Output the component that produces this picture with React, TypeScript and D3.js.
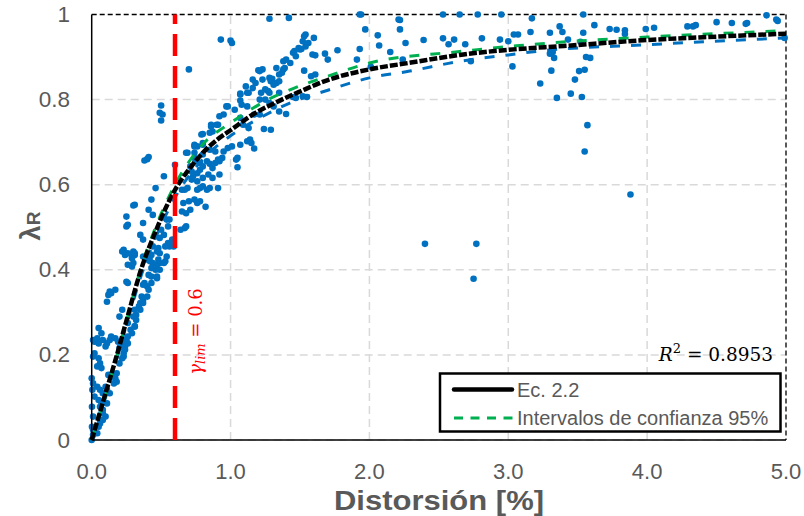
import React from "react";
import * as d3 from "d3";

// Measured pairs: [distortion %, λR]
const measured: [number, number][] = [
  [2.40,0.461],[2.77,0.461],[2.75,0.379],[3.88,0.577],[3.55,0.678],[3.57,0.740],
  [3.56,0.900],[3.59,0.898],[3.51,0.867],[3.55,0.870],[3.48,0.847],[3.45,0.814],[3.53,0.806],
  [3.54,1.0],[3.37,0.972],[3.39,0.959],[3.30,0.957],[3.62,0.975],[3.54,0.957],[3.73,0.966],[3.78,0.964],
  [3.84,0.963],[3.84,0.954],[3.99,0.966],[4.05,0.969],[4.29,0.972],[4.33,0.972],[4.35,0.975],[4.50,0.982],
  [4.61,0.980],[4.71,0.978],[4.72,0.980],[4.86,0.998],[4.93,0.988],[4.94,0.985],
  [3.43,0.941],[3.52,0.936],[3.30,0.908],[3.32,0.912],[3.33,0.898],[3.31,0.868],[3.23,0.838],[3.35,0.804],[4.99,0.945],
  [1.93,1.0],[1.94,1.0],[2.21,0.988],[2.22,0.987],[2.22,0.965],[1.97,0.965],[2.06,0.951],[2.07,0.927],
  [2.15,0.912],[2.26,0.933],[2.39,0.94],[2.53,1.0],[2.65,1.0],[2.78,1.0],[2.95,1.0],[3.17,0.991],[3.16,0.959],
  [3.04,0.953],[3.07,0.953],[2.94,0.941],[3.00,0.937],[2.81,0.944],[2.69,0.930],[2.61,0.941],[2.57,0.930],
  [2.53,0.944],[2.73,0.89],[3.03,0.878],[1.93,0.919],[1.91,0.894],[2.24,0.894],[2.01,0.877],
  [1.54,0.953],[1.53,0.949],[1.60,0.945],[1.56,0.933],[1.54,0.925],[1.51,0.919],[1.59,0.906],[1.61,0.904],
  [1.68,0.908],[1.70,0.894],[1.77,0.916],[1.53,0.868],[1.58,0.855],[1.61,0.859],[1.52,0.808],[1.55,0.806],
  [1.28,0.99],[1.42,0.992],[1.45,0.91],[1.47,0.902],[1.50,0.918],[1.38,0.89],[1.43,0.886],[1.33,0.874],
  [1.38,0.871],[1.35,0.859],[1.23,0.871],[1.30,0.849],[1.25,0.824],[1.27,0.82],[1.45,0.806],[1.47,0.804],
  [1.24,0.731],[1.29,0.729],[1.40,0.766],[1.35,0.772],[1.31,0.784],[1.28,0.792],[1.21,0.8],[1.25,0.8],[1.22,0.816],
  [0.93,0.941],[1.00,0.939],[1.01,0.933],[0.70,0.871],
  [1.52,0.937],[1.49,0.921],[1.46,0.914],[1.40,0.894],[1.39,0.874],[1.37,0.863],
  [1.20,0.869],[1.16,0.847],[1.18,0.839],[1.23,0.847],[1.28,0.851],[1.29,0.843],[1.31,0.835],[1.33,0.839],
  [1.35,0.843],[1.35,0.816],[1.28,0.816],[1.11,0.831],[1.13,0.816],[1.07,0.814],[1.07,0.798],[1.08,0.788],
  [1.12,0.784],[0.98,0.784],[0.92,0.761],[0.95,0.765],[0.86,0.741],[0.90,0.741],[0.87,0.725],[0.80,0.719],
  [0.74,0.694],[0.80,0.694],[0.69,0.675],[0.85,0.682],[0.89,0.678],[0.80,0.671],[0.74,0.663],[0.76,0.655],
  [0.78,0.651],[0.83,0.655],[0.85,0.649],[0.71,0.643],[0.72,0.631],[0.92,0.655],[0.94,0.663],[0.95,0.678],
  [0.98,0.686],[1.01,0.690],[1.07,0.694],[1.12,0.702],[1.14,0.706],[1.07,0.757],[1.09,0.741],[1.13,0.733],
  [1.05,0.663],[1.05,0.641],[1.15,0.698],[1.17,0.685],[1.17,0.765],[1.21,0.765],[0.80,0.616],[0.84,0.624],
  [0.87,0.616],[0.92,0.624],[0.60,0.647],[0.72,0.612],[0.76,0.608],
  [0.50,0.751],[0.40,0.660],[0.41,0.665],[0.38,0.657],[0.52,0.62],[0.31,0.553],[0.30,0.551],[0.41,0.541],
  [0.25,0.525],[0.26,0.506],[0.25,0.502],[0.37,0.51],[0.43,0.565],[0.44,0.529],[0.35,0.482],[0.37,0.471],
  [0.23,0.447],[0.24,0.439],[0.30,0.443],[0.31,0.435],[0.29,0.431],[0.42,0.431],[0.44,0.455],[0.48,0.451],
  [0.49,0.475],[0.52,0.482],[0.50,0.494],[0.54,0.518],[0.56,0.518],[0.55,0.502],[0.54,0.431],[0.56,0.455],
  [0.58,0.471],[0.64,0.494],[0.67,0.498],[0.68,0.502],[0.65,0.537],[0.68,0.533],[0.71,0.541],[0.66,0.557],
  [0.70,0.561],[0.74,0.565],[0.76,0.557],[0.78,0.561],[0.82,0.548],[0.65,0.588],[0.67,0.588],[0.69,0.592],
  [0.76,0.588],[0.78,0.592],[0.80,0.596],[0.83,0.588],[0.85,0.592],[0.91,0.592],[0.73,0.62],[0.76,0.627],
  [0.78,0.635],[0.80,0.643],[0.87,0.639],[0.89,0.651],[0.91,0.659],[0.74,0.690],[0.80,0.698],[0.68,0.675],
  [0.74,0.675],[0.79,0.718],[0.85,0.722],[0.86,0.737],[0.91,0.741],
  [0.50,0.786],[0.49,0.769],[0.51,0.765],[0.46,0.592],[0.76,0.690],[0.97,0.784],[1.03,0.776],[1.07,0.812],
  [1.12,0.816],[1.16,0.827],[1.21,0.867],[1.04,0.659],
  [0.22,0.443],[0.24,0.435],[0.26,0.439],[0.31,0.439],[0.29,0.427],[0.37,0.431],[0.43,0.435],[0.47,0.443],
  [0.49,0.439],[0.53,0.455],[0.55,0.463],[0.59,0.455],[0.58,0.467],[0.26,0.412],[0.29,0.408],[0.30,0.416],
  [0.40,0.424],[0.42,0.42],[0.44,0.416],[0.47,0.412],[0.43,0.404],[0.46,0.40],[0.48,0.424],[0.49,0.416],
  [0.53,0.42],[0.47,0.38],[0.43,0.384],[0.41,0.388],[0.38,0.369],[0.40,0.361],[0.41,0.353],[0.37,0.365],
  [0.36,0.337],[0.37,0.329],[0.35,0.322],[0.34,0.314],[0.31,0.306],[0.32,0.294],[0.30,0.29],[0.32,0.282],
  [0.31,0.267],[0.26,0.275],[0.28,0.259],[0.26,0.243],[0.25,0.235],[0.24,0.22],[0.23,0.204],[0.22,0.192],
  [0.13,0.349],[0.12,0.341],[0.14,0.345],[0.11,0.325],[0.17,0.353],[0.05,0.263],[0.07,0.251],[0.04,0.239],
  [0.02,0.231],[0.05,0.227],[0.08,0.235],[0.11,0.227],[0.10,0.22],[0.13,0.235],[0.14,0.243],[0.17,0.239],
  [0.19,0.231],[0.22,0.227],[0.20,0.216],[0.02,0.204],[0.05,0.192],[0.06,0.18],[0.04,0.173],[0.07,0.169],
  [0.12,0.153],[0.14,0.149],[0.17,0.145],[0.18,0.137],[0.0,0.145],[0.01,0.133],[0.04,0.125],[0.06,0.118],
  [0.08,0.11],[0.10,0.125],[0.11,0.118],[0.02,0.102],[0.05,0.094],[0.07,0.086],[0.06,0.078],[0.08,0.071],
  [0.07,0.063],[0.10,0.055],[0.08,0.047],[0.002,0.078],[0.01,0.055],[0.002,0.031],[0.01,0.024],[0,0],
  [0.01,0.012],[0.04,0.016],[0.01,0.235],[0.01,0.196],[0.005,0.118],
  [0.06,0.039],[0.08,0.063],[0.11,0.086],[0.13,0.11],[0.16,0.133],[0.18,0.157],[0.20,0.18],[0.23,0.196],
  [0.24,0.212],[0.26,0.227],[0.29,0.251],[0.31,0.267],[0.35,0.306],[0.37,0.322],[0.40,0.337],[0.43,0.369],
  [0.47,0.384],[0.49,0.40],[0.52,0.416],[0.05,0.031],[0.06,0.047],
  [0.26,0.369],[0.25,0.372],[0.22,0.306],[0.20,0.29],
];

// Ec. 2.2 fitted curve, sampled
const fitX = [0, 0.05, 0.1, 0.18, 0.25, 0.36, 0.46, 0.54, 0.6, 0.71, 0.8, 0.9, 1.0, 1.16, 1.33, 1.5, 1.7, 2.0, 2.3, 2.65, 3.0, 3.4, 4.0, 4.5, 5.0];
const fitY = [0, 0.055, 0.11, 0.198, 0.28, 0.405, 0.49, 0.55, 0.588, 0.64, 0.675, 0.705, 0.728, 0.765, 0.794, 0.819, 0.846, 0.871, 0.887, 0.905, 0.917, 0.926, 0.94, 0.948, 0.955];

// 95% confidence bounds
const upperX = [0, 0.1, 0.25, 0.36, 0.46, 0.6, 0.8, 1.0, 1.27, 1.45, 1.7, 2.0, 2.65, 3.08, 3.3, 4.0, 5.0];
const upperY = [0, 0.105, 0.28, 0.41, 0.5, 0.6, 0.695, 0.745, 0.8, 0.826, 0.855, 0.886, 0.913, 0.927, 0.933, 0.947, 0.962];
const lowerX = [0, 0.1, 0.25, 0.36, 0.46, 0.6, 0.8, 1.0, 1.2, 1.45, 1.7, 2.0, 2.29, 2.65, 3.0, 3.22, 4.0, 5.0];
const lowerY = [0, 0.1, 0.27, 0.39, 0.475, 0.57, 0.66, 0.715, 0.755, 0.795, 0.822, 0.851, 0.867, 0.89, 0.905, 0.914, 0.929, 0.945];

const xTicks = [0, 1, 2, 3, 4, 5];
const yTicks = [0, 0.2, 0.4, 0.6, 0.8, 1];
const gammaLim = 0.6;
const r2 = "0.8953";

const W = 804;
const H = 516;
const left = 91.7;
const right = 786;
const top = 14.5;
const bottom = 440;

const TICK_COLOR = "#595959";
const SANS = "'Liberation Sans', Arial, sans-serif";
const SERIF = "'DejaVu Serif', 'Liberation Serif', serif";

export default function App() {
  const x = d3.scaleLinear().domain([0, 5]).range([left, right]);
  const y = d3.scaleLinear().domain([0, 1]).range([bottom, top]);

  const line = d3
    .line<[number, number]>()
    .x((d) => x(d[0]))
    .y((d) => y(d[1]))
    .curve(d3.curveMonotoneX);

  const zip = (xs: number[], ys: number[]) => xs.map((v, i) => [v, ys[i]] as [number, number]);

  return (
    <svg
      width={W}
      height={H}
      style={{ position: "absolute", left: 0, top: 0, background: "#fff" }}
      xmlns="http://www.w3.org/2000/svg"
    >
      <rect width={W} height={H} fill="#fff" />

      {/* grid */}
      {xTicks.slice(1, -1).map((t) => (
        <line key={"gx" + t} x1={x(t)} x2={x(t)} y1={y(0)} y2={y(1)} stroke="#d9d9d9" strokeWidth={1.5} strokeDasharray="8 5" />
      ))}
      {yTicks.slice(0, -1).map((t) => (
        <line key={"gy" + t} x1={x(0)} x2={x(5)} y1={y(t)} y2={y(t)} stroke="#d9d9d9" strokeWidth={1.5} strokeDasharray="8 5" />
      ))}

      {/* frame */}
      <line x1={x(0)} x2={x(5)} y1={y(1)} y2={y(1)} stroke="#000" strokeWidth={1.3} strokeDasharray="5 3" />
      <line x1={x(5)} x2={x(5)} y1={y(1)} y2={y(0)} stroke="#000" strokeWidth={1.3} strokeDasharray="5 3" />

      {/* measured points */}
      <g fill="#0070C0">
        {measured.map((d, i) => (
          <circle key={i} cx={x(d[0])} cy={y(d[1])} r={3.3} />
        ))}
      </g>

      {/* confidence bounds and fit */}
      <path d={line(zip(lowerX, lowerY)) || ""} fill="none" stroke="#0070C0" strokeWidth={3} strokeDasharray="10 11" />
      <path d={line(zip(upperX, upperY)) || ""} fill="none" stroke="#00B050" strokeWidth={3} strokeDasharray="10 11" />
      <path d={line(zip(fitX, fitY)) || ""} fill="none" stroke="#000" strokeWidth={4.5} strokeDasharray="8 2" />

      {/* axes */}
      <line x1={x(0)} x2={x(0)} y1={y(0)} y2={y(1)} stroke="#000" strokeWidth={1.5} />
      <line x1={x(0)} x2={x(5)} y1={y(0)} y2={y(0)} stroke="#000" strokeWidth={1.5} />

      {/* limit line */}
      <line x1={x(gammaLim)} x2={x(gammaLim)} y1={y(0)} y2={y(1)} stroke="#FF0000" strokeWidth={4.5} strokeDasharray="22 10" />
      <text
        transform={`translate(${x(gammaLim) + 22},${y(0.255)}) rotate(-90)`}
        fill="#FF0000"
        fontFamily={SERIF}
        fontSize={18}
        dominantBaseline="middle"
        textAnchor="middle"
      >
        <tspan fontStyle="italic">γ</tspan>
        <tspan fontStyle="italic" fontSize={13} dy={4}>lim</tspan>
        <tspan dy={-4}> = 0.6</tspan>
      </text>

      {/* tick labels */}
      {yTicks.map((t) => (
        <text key={"ty" + t} x={70} y={y(t)} textAnchor="end" dominantBaseline="central" fill={TICK_COLOR} fontFamily={SANS} fontSize={22.5}>
          {t === 0 || t === 1 ? String(t) : t.toFixed(1)}
        </text>
      ))}
      {xTicks.map((t) => (
        <text key={"tx" + t} x={x(t)} y={478.5} textAnchor="middle" fill={TICK_COLOR} fontFamily={SANS} fontSize={22}>
          {t.toFixed(1)}
        </text>
      ))}

      {/* axis titles */}
      <text
        x={439}
        y={509.5}
        textAnchor="middle"
        fill={TICK_COLOR}
        fontFamily={SANS}
        fontSize={28}
        fontWeight="bold"
        textLength={210}
        lengthAdjust="spacingAndGlyphs"
      >
        Distorsión [%]
      </text>
      <text transform="translate(40,226) rotate(-90)" textAnchor="middle" fill={TICK_COLOR} fontFamily={SANS} fontWeight="bold">
        <tspan fontSize={27}>λ</tspan>
        <tspan fontSize={19}>R</tspan>
      </text>

      {/* R² */}
      <text x={773} y={361} textAnchor="end" fill="#000" fontFamily={SERIF} fontSize={18.5}>
        <tspan fontStyle="italic">R</tspan>
        <tspan fontSize={13} dy={-8}>2</tspan>
        <tspan dy={8}> = {r2}</tspan>
      </text>

      {/* legend */}
      <rect x={440} y={373.5} width={340.5} height={58} fill="#fff" stroke="#000" strokeWidth={2.5} />
      <line x1={454} x2={512} y1={389.5} y2={389.5} stroke="#000" strokeWidth={4.5} strokeLinecap="round" />
      <text x={517} y={396.5} fill={TICK_COLOR} fontFamily={SANS} fontSize={20}>Ec. 2.2</text>
      <line x1={454} x2={514} y1={418} y2={418} stroke="#00B050" strokeWidth={3} strokeDasharray="9 7.5" />
      <text x={517} y={425} fill={TICK_COLOR} fontFamily={SANS} fontSize={20}>Intervalos de confianza 95%</text>
    </svg>
  );
}
